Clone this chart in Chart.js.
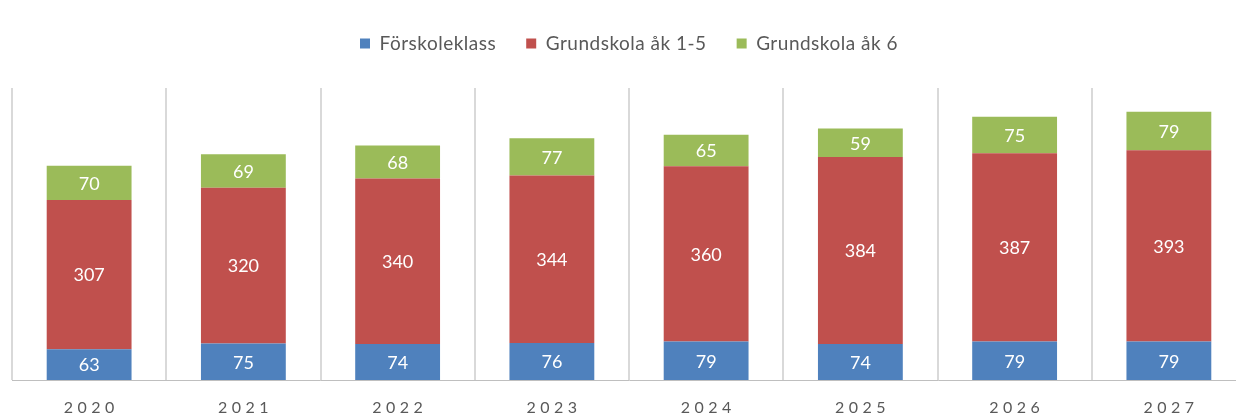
<!DOCTYPE html>
<html><head><meta charset="utf-8">
<script src="https://cdn.jsdelivr.net/npm/chart.js@4"></script>
<style>html,body{margin:0;padding:0;background:#fff;overflow:hidden;width:1236px;height:416px}
#wrap{width:1246px;height:416px;position:relative}</style>
</head><body><div id="wrap"><canvas id="c"></canvas></div>
<script>
const years = ['2020','2021','2022','2023','2024','2025','2026','2027'];
const forskoleklass = [63,75,74,76,79,74,79,79];
const grundskola15 = [307,320,340,344,360,384,387,393];
const grundskola6 = [70,69,68,77,65,59,75,79];

const FONT = 'Lato, "Open Sans", sans-serif';

const labelPlugin = {
  id:'segLabels',
  afterDatasetsDraw(chart){
    const ctx = chart.ctx;
    ctx.save();
    ctx.fillStyle = '#ffffff';
    ctx.font = '18px ' + FONT;
    ctx.textAlign = 'center';
    ctx.textBaseline = 'middle';
    chart.data.datasets.forEach((ds,i)=>{
      const meta = chart.getDatasetMeta(i);
      meta.data.forEach((bar,j)=>{
        const p = bar.getProps(['x','y','base'],true);
        ctx.fillText(String(ds.data[j]), p.x, (p.y+p.base)/2 + 1);
      });
    });
    ctx.restore();
  }
};
const spacingPlugin = {
  id:'tickSpacing',
  beforeInit(chart){
    const lg = chart.legend;
    if (lg){
      const fit = lg.fit.bind(lg);
      const draw = lg.draw.bind(lg);
      lg.fit = function(){
        const ctx = chart.ctx; ctx.save(); ctx.letterSpacing = '0.5px';
        fit();
        ctx.restore();
        this.height = 84;
      };
      lg.draw = function(){
        const ctx = chart.ctx; ctx.save(); ctx.letterSpacing = '0.5px';
        draw();
        ctx.restore();
      };
    }
  },
  beforeDraw(chart){
    const s = chart.scales.x;
    if (s && !s.__patched){
      const orig = s.drawLabels.bind(s);
      s.drawLabels = function(a){
        const ctx = chart.ctx;
        ctx.save();
        ctx.letterSpacing = '4.5px';
        ctx.translate(2.2,0);
        orig(a);
        ctx.restore();
      };
      s.__patched = true;
    }
  }
};

new Chart(document.getElementById('c'), {
  type:'bar',
  data:{
    labels: years,
    datasets:[
      {label:'Förskoleklass', data: forskoleklass, backgroundColor:'#4f81bd'},
      {label:'Grundskola åk 1-5', data: grundskola15, backgroundColor:'#c0504d'},
      {label:'Grundskola åk 6', data: grundskola6, backgroundColor:'#9bbb59'}
    ]
  },
  options:{
    responsive:true,
    maintainAspectRatio:false,
    animation:false,
    layout:{padding:{left:12,right:0,top:4,bottom:0}},
    datasets:{bar:{categoryPercentage:1.0,barPercentage:0.55}},
    plugins:{
      legend:{
        position:'top',
        labels:{
          boxWidth:10, boxHeight:10, color:'#595959',
          font:{family:FONT, size:19},
          padding:30
        }
      },
      tooltip:{enabled:false}
    },
    scales:{
      x:{
        stacked:true,
        afterFit(scale){ scale.height = 36; },
        grid:{display:true, offset:true, color:'#d9d9d9', lineWidth:2, drawTicks:false},
        border:{display:true, color:'#bfbfbf', width:1},
        ticks:{color:'#595959', font:{family:FONT, size:16}, padding:18}
      },
      y:{
        stacked:true, display:false, min:0, max:600
      }
    }
  },
  plugins:[labelPlugin, spacingPlugin]
});
</script></body></html>
